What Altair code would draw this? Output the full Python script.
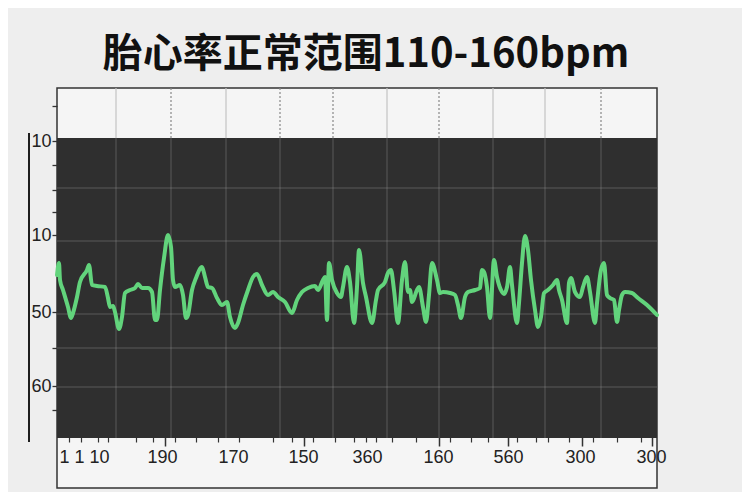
import altair as alt
import pandas as pd

title_text = "胎心率正常范围110-160bpm"

# trace (time units along the strip, value units up the strip)
t_vals = [0, 2, 3, 6, 11, 14, 16, 20, 23, 30, 32, 35, 40, 48, 51, 53, 56, 58, 62, 65,
          68, 73, 78, 81, 85, 91, 95, 98, 100, 103, 107, 111, 114, 116, 118, 123, 126, 129,
          131, 135, 139, 145, 148, 151, 155, 160, 165, 170, 173, 178, 181, 186, 191, 196,
          200, 205, 211, 216, 221, 228, 235, 240, 245, 251, 258, 261, 266, 268, 270, 272,
          275, 280, 284, 286, 290, 293, 297, 300, 302, 306, 309, 315, 319, 321, 328, 331,
          334, 337, 341, 345, 348, 351, 353, 355, 360, 362, 366, 369, 372, 375, 380, 383,
          386, 393, 398, 401, 404, 408, 411, 418, 423, 425, 427, 430, 433, 437, 440, 445,
          447, 450, 453, 455, 460, 462, 465, 468, 471, 474, 478, 481, 484, 487, 491, 496,
          500, 502, 505, 510, 512, 514, 518, 523, 526, 530, 533, 538, 540, 544, 547, 550,
          553, 557, 560, 562, 565, 568, 575, 581, 590, 600]
trace_vals = [213, 225, 208, 198, 181, 170, 175, 191, 206, 218, 223, 203, 202, 201, 190, 181, 182, 176, 159, 171,
              195, 198, 200, 204, 200, 200, 196, 168, 168, 198, 230, 253, 241, 208, 201, 203, 193, 170,
              173, 198, 210, 221, 211, 201, 200, 190, 183, 186, 171, 160, 165, 183, 198, 211,
              214, 203, 193, 196, 191, 186, 175, 188, 196, 200, 202, 198, 208, 211, 168, 225,
              208, 195, 191, 201, 221, 206, 165, 201, 238, 205, 191, 165, 188, 198, 206, 215,
              218, 198, 165, 208, 226, 196, 198, 186, 198, 201, 181, 166, 193, 225, 208, 195,
              196, 195, 193, 183, 170, 191, 196, 198, 200, 218, 216, 201, 170, 228, 211, 196,
              194, 201, 221, 203, 165, 185, 225, 252, 238, 208, 178, 161, 171, 195, 198, 203,
              208, 198, 188, 165, 205, 210, 196, 191, 201, 211, 196, 165, 185, 218, 225, 193,
              190, 188, 166, 178, 193, 196, 195, 190, 183, 173]

# frame / panel extents
x_domain = [0, 600]
y_domain = [0, 400]
panel_bottom = 50
panel_top = 350
strip_top = 400

# grid
grid_x = [59, 114, 169, 223, 276, 330, 382, 436, 488, 544]
grid_style = ["solid", "dotted", "solid", "dotted", "dotted", "solid", "dotted", "solid", "solid", "dotted"]
grid_y = [300, 247, 174, 140, 101]

# axes
x_label_pos = [27, 105, 176, 246, 310, 381, 451, 523, 594]
x_label_text = ["1 1 10", "190", "170", "150", "360", "160", "560", "300", "300"]
x_major_ticks = [108, 247, 382, 451, 525, 595]
x_minor_ticks = [12, 24, 41, 51, 79, 96, 118, 139, 161, 182, 216, 235, 256, 278, 297, 309,
                 319, 335, 359, 393, 414, 431, 460, 479, 491, 512, 536, 560, 584]
y_label_pos = [347, 253, 176, 102]
y_label_text = ["10", "10", "50", "60"]
y_minor_ticks = [382, 323, 298, 276, 140, 78]

# left bracket line
bracket_x = [-28]
bracket_y = [355]
bracket_y2 = [46]


def label_expr(pos, text):
    expr = "''"
    for p, s in reversed(list(zip(pos, text))):
        expr = f"datum.value == {p} ? '{s}' : " + expr
    return expr


xs = alt.Scale(domain=x_domain, nice=False, zero=False)
ys = alt.Scale(domain=y_domain, nice=False, zero=False)

axis_font = "Liberation Sans"

x_minor_axis = alt.Axis(orient="bottom", values=x_minor_ticks, labels=False, domain=False, grid=False,
                        tickSize=5, tickWidth=1.2, tickColor="#333333", offset=-51, title=None)
x_major_axis = alt.Axis(orient="bottom", values=x_major_ticks, labels=False, domain=False, grid=False,
                        tickSize=9, tickWidth=1.5, tickColor="#333333", offset=-51, title=None)
x_label_axis = alt.Axis(orient="bottom", values=x_label_pos, labelExpr=label_expr(x_label_pos, x_label_text),
                        ticks=False, domain=False, grid=False, offset=-51, labelPadding=11,
                        labelFont=axis_font, labelFontSize=18, labelColor="#222222",
                        labelOverlap=False, labelFlush=False, title=None)
y_axis = alt.Axis(orient="left", values=y_label_pos + y_minor_ticks,
                  labelExpr=label_expr(y_label_pos, y_label_text),
                  domain=False, grid=False, tickSize=5, tickWidth=1.3, tickColor="#333333",
                  labelFont=axis_font, labelFontSize=18, labelColor="#222222", labelPadding=1,
                  labelOverlap=False, labelFlush=False, title=None)

panel_df = pd.DataFrame({"x0": [x_domain[0]], "x1": [x_domain[1]],
                         "y0": [panel_bottom], "y1": [panel_top]})
panel = alt.Chart(panel_df).mark_rect(color="#2f2f2f").encode(
    x=alt.X("x0:Q", scale=xs, axis=x_minor_axis),
    x2="x1:Q",
    y=alt.Y("y0:Q", scale=ys, axis=y_axis),
    y2="y1:Q",
)

strip_df = pd.DataFrame({"x": grid_x, "style": grid_style,
                         "y0": [panel_top] * len(grid_x), "y1": [strip_top] * len(grid_x)})
strip_grid = alt.Chart(strip_df).mark_rule(strokeWidth=1.2).encode(
    x=alt.X("x:Q", scale=xs, axis=x_major_axis),
    y=alt.Y("y0:Q", scale=ys, axis=None),
    y2="y1:Q",
    color=alt.Color("style:N", scale=alt.Scale(domain=["solid", "dotted"], range=["#c4c4c4", "#888888"]), legend=None),
    strokeDash=alt.StrokeDash("style:N", scale=alt.Scale(domain=["solid", "dotted"], range=[[1, 0], [2, 2]]), legend=None),
)

vgrid_df = pd.DataFrame({"x": grid_x, "y0": [panel_bottom] * len(grid_x), "y1": [panel_top] * len(grid_x)})
vgrid = alt.Chart(vgrid_df).mark_rule(color="#9a9a9a", strokeWidth=1, opacity=0.4).encode(
    x=alt.X("x:Q", scale=xs, axis=None),
    y=alt.Y("y0:Q", scale=ys, axis=None),
    y2="y1:Q",
)

hgrid_df = pd.DataFrame({"y": grid_y, "x0": [x_domain[0]] * len(grid_y), "x1": [x_domain[1]] * len(grid_y)})
hgrid = alt.Chart(hgrid_df).mark_rule(color="#9a9a9a", strokeWidth=1, opacity=0.4).encode(
    y=alt.Y("y:Q", scale=ys, axis=None),
    x=alt.X("x0:Q", scale=xs, axis=None),
    x2="x1:Q",
)

trace_df = pd.DataFrame({"t": t_vals, "v": trace_vals})
trace = alt.Chart(trace_df).mark_line(color="#62d47c", strokeWidth=4, strokeJoin="round",
                                      strokeCap="round", interpolate="monotone").encode(
    x=alt.X("t:Q", scale=xs, axis=x_label_axis),
    y=alt.Y("v:Q", scale=ys, axis=None),
)

bracket_df = pd.DataFrame({"x": bracket_x, "y0": bracket_y, "y1": bracket_y2})
bracket = alt.Chart(bracket_df).mark_rule(color="#1e1e1e", strokeWidth=2).encode(
    x=alt.X("x:Q", scale=xs, axis=None),
    y=alt.Y("y0:Q", scale=ys, axis=None),
    y2="y1:Q",
)

chart = alt.layer(panel, strip_grid, vgrid, hgrid, trace, bracket).resolve_axis(
    x="independent", y="independent"
).properties(
    width=600,
    height=400,
    padding={"left": 49, "top": 80, "right": 85, "bottom": 4},
    autosize=alt.AutoSizeParams(type="none"),
    background="#eeeeee",
    title=alt.TitleParams(title_text, font="Noto Sans CJK SC", fontSize=40, fontWeight="bold",
                          color="#111111", anchor="middle", offset=12, dx=9),
).configure_view(stroke="#333333", strokeWidth=1.5, fill="#f5f5f5")

chart.save("out.html", embed_options={"renderer": "svg", "actions": False})
